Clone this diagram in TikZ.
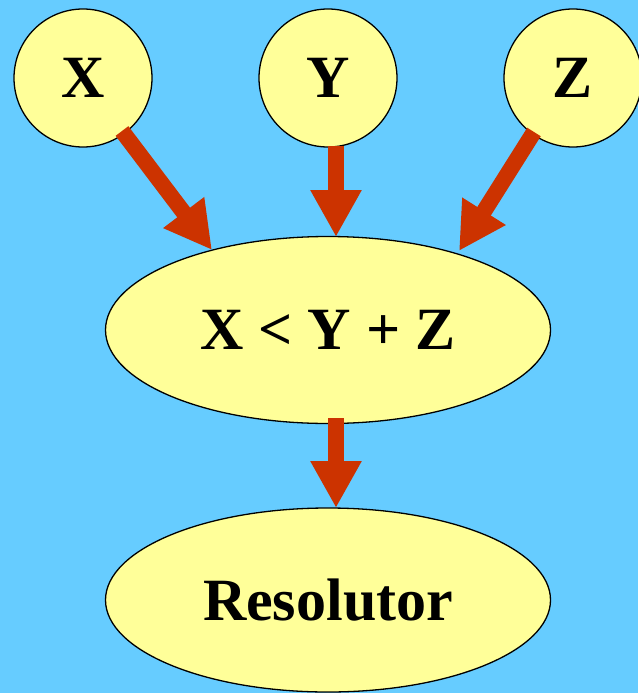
\documentclass[tikz,border=0pt]{standalone}
\usepackage{fontspec}
\setmainfont{Liberation Serif}
\usetikzlibrary{shapes.geometric,arrows.meta}
\definecolor{bgblue}{HTML}{66CCFF}
\definecolor{nodeyellow}{HTML}{FFFF99}
\definecolor{arrowred}{HTML}{CC3300}
\begin{document}
\begin{tikzpicture}[x=1pt,y=-1pt,
  varnode/.style={circle,draw=black,line width=1.3pt,fill=nodeyellow,minimum size=138pt,inner sep=0pt,font=\fontsize{60}{60}\selectfont\bfseries},
  bignode/.style={ellipse,draw=black,line width=1.3pt,fill=nodeyellow,minimum width=445pt,minimum height=187pt,inner sep=0pt,font=\fontsize{60}{60}\selectfont\bfseries},
  bigarrow/.style={draw=arrowred,line width=16pt,-{Triangle[length=47pt,width=48pt]}}]
\useasboundingbox (0,0) rectangle (638,693);
\fill[bgblue] (0,0) rectangle (638,693);
\node[varnode] (X) at (83,78) {X};
\node[varnode] (Y) at (328,78) {Y};
\node[varnode] (Z) at (573,78) {Z};
\node[bignode] (C) at (328,330) {X < Y + Z};
\node[bignode,minimum height=184pt] (R) at (328,600) {Resolutor};
\coordinate (xs) at (122,131);
\coordinate (xt) at (212,250);
\coordinate (ys) at (336,146);
\coordinate (yt) at (336,237);
\coordinate (zs) at (534,132);
\coordinate (zt) at (459,251);
\coordinate (cs) at (336,418);
\coordinate (ct) at (336,508);
\draw[bigarrow] (xs) -- (xt);
\draw[bigarrow] (ys) -- (yt);
\draw[bigarrow] (zs) -- (zt);
\draw[bigarrow] (cs) -- (ct);
\end{tikzpicture}
\end{document}
